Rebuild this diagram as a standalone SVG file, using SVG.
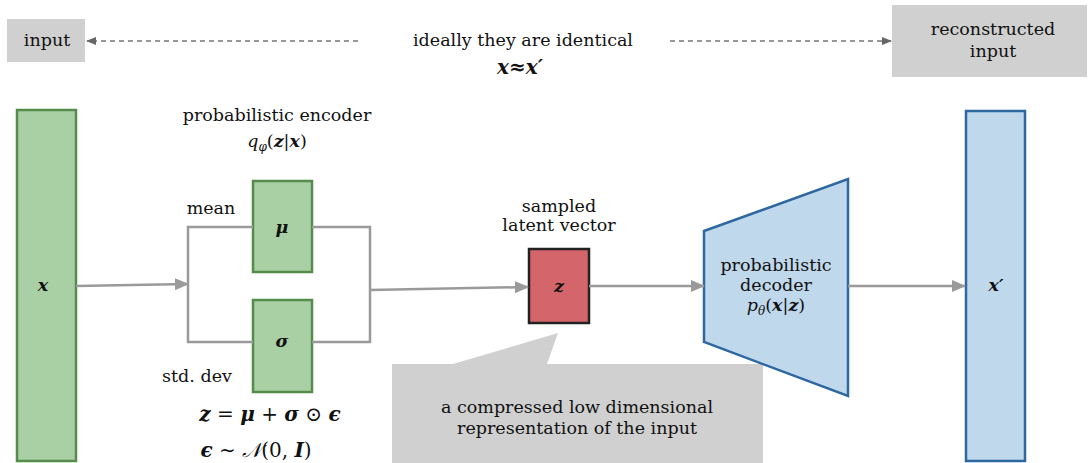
<svg xmlns="http://www.w3.org/2000/svg" width="1088" height="463" viewBox="0 0 1088 463">
<style>
text{font-family:"DejaVu Serif","Liberation Serif",serif;font-size:17.5px;fill:#111;text-anchor:middle}
.m{font-style:italic;font-weight:bold}
.big{font-size:20px}
.enc{fill:#a9cfa4;stroke:#558b4b;stroke-width:2.5}
.dec{fill:#c0d8eb;stroke:#2f68a0;stroke-width:2.5}
.gbox{fill:#d0d0d0}
.line{fill:none;stroke:#9a9a9a;stroke-width:2.5}
.dash{fill:none;stroke:#777;stroke-width:1.6;stroke-dasharray:5 4}
</style>
<defs>
<marker id="ah" markerWidth="14" markerHeight="12" refX="13" refY="6" orient="auto" markerUnits="userSpaceOnUse"><path d="M0,0 L14,6 L0,12 Z" fill="#9a9a9a"/></marker>
<marker id="dh" markerWidth="10" markerHeight="8" refX="9" refY="4" orient="auto" markerUnits="userSpaceOnUse"><path d="M0,0 L10,4 L0,8 Z" fill="#666"/></marker>
</defs>
<g id="input-label"><rect class="gbox" x="7" y="19" width="78" height="43"/><text x="47" y="46">input</text></g>
<g id="reconstructed-label"><rect class="gbox" x="892" y="5" width="195" height="72"/><text x="993" y="35">reconstructed</text><text x="993" y="57">input</text></g>
<g id="identical-note"><text x="523" y="46">ideally they are identical</text><text x="520" y="74" class="m big">x≈x′</text></g>
<g id="x-input"><rect class="enc" x="17" y="110" width="59" height="351"/><text x="43" y="291" class="m" font-size="18">x</text></g>
<g id="encoder-label"><text x="277" y="121">probabilistic encoder</text><text x="277" y="147"><tspan font-style="italic">q</tspan><tspan font-style="italic" font-size="12" dy="4">φ</tspan><tspan dy="-4">(</tspan><tspan class="m">z</tspan>|<tspan class="m">x</tspan>)</text></g>
<g id="mu"><rect class="enc" x="253" y="181" width="59" height="91"/><text x="282" y="233" class="m" font-size="18">μ</text><text x="211" y="214">mean</text></g>
<g id="sigma"><rect class="enc" x="253" y="300" width="59" height="92"/><text x="282" y="347" class="m" font-size="18">σ</text><text x="197" y="382">std. dev</text></g>
<g id="reparam"><text x="270" y="421" class="big"><tspan class="m">z</tspan> = <tspan class="m">μ</tspan> + <tspan class="m">σ</tspan> ⊙ <tspan class="m">ϵ</tspan></text><text x="256" y="457" class="big"><tspan class="m">ϵ</tspan> ∼ <tspan font-style="italic">𝒩</tspan>(0, <tspan class="m">I</tspan>)</text></g>
<g id="z-latent"><rect x="529" y="249" width="60" height="74" fill="#d4656a" stroke="#222" stroke-width="2.5"/><text x="559" y="292" class="m" font-size="18">z</text><text x="559" y="212">sampled</text><text x="559" y="231">latent vector</text></g>
<g id="callout"><path class="gbox" d="M392,364 L453,364 L558,333 L547,364 L763,364 L763,463 L392,463 Z"/><text x="577" y="413">a compressed low dimensional</text><text x="577" y="434">representation of the input</text></g>
<g id="decoder"><path class="dec" d="M704,231 L848,179 L848,396 L704,342 Z"/><text x="776" y="271">probabilistic</text><text x="776" y="291">decoder</text><text x="776" y="311"><tspan font-style="italic">p</tspan><tspan font-style="italic" font-size="12" dy="4">θ</tspan><tspan dy="-4">(</tspan><tspan class="m">x</tspan>|<tspan class="m">z</tspan>)</text></g>
<g id="x-output"><rect class="dec" x="966" y="111" width="59" height="350"/><text x="996" y="291" class="m" font-size="18">x′</text></g>
<g id="connectors">
<path class="dash" d="M358,41 L87,41" marker-end="url(#dh)"/>
<path class="dash" d="M670,41 L891,41" marker-end="url(#dh)"/>
<path class="line" d="M76,286 L188,284" marker-end="url(#ah)"/>
<path class="line" d="M253,227 L188,227 L188,342 L253,342"/>
<path class="line" d="M312,227 L370,227 L370,342 L312,342"/>
<path class="line" d="M370,290 L528,287" marker-end="url(#ah)"/>
<path class="line" d="M589,286 L704,286" marker-end="url(#ah)"/>
<path class="line" d="M848,286 L965,286" marker-end="url(#ah)"/>
</g>
</svg>
